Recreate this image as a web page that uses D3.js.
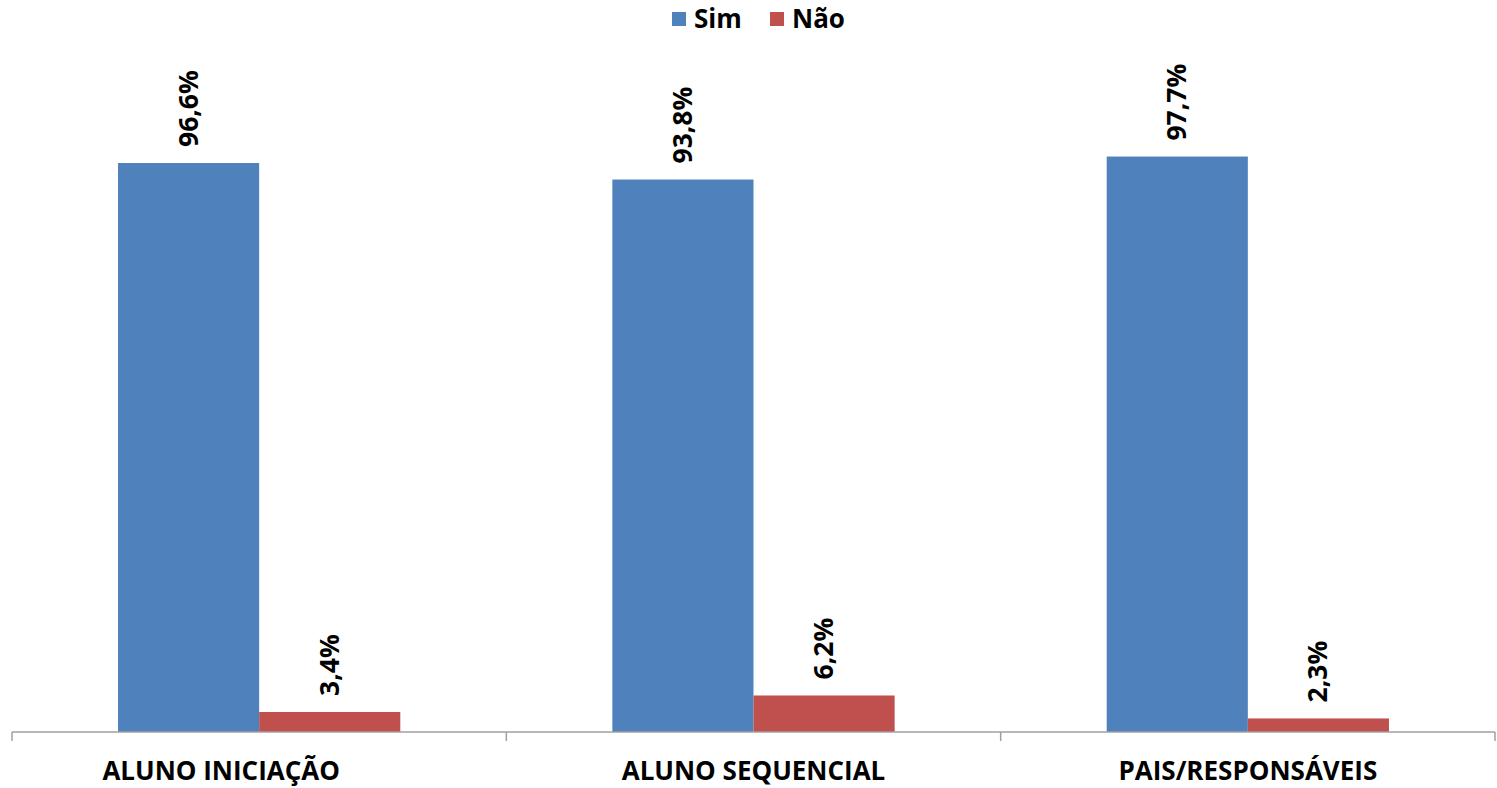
<!DOCTYPE html>
<html>
<head>
<meta charset="utf-8">
<script src="https://cdn.jsdelivr.net/npm/d3@7"></script>
<style>
  body { margin: 0; background: #fff; }
  text { font-family: "Open Sans", "Noto Sans", sans-serif; font-weight: bold; fill: #000; }
</style>
</head>
<body>
<div id="chart-ctn"></div>
<script>
// Chart data
let categories = ["ALUNO INICIAÇÃO", "ALUNO SEQUENCIAL", "PAIS/RESPONSÁVEIS"];
let seriesNames = ["Sim", "Não"];
let simValues = [96.6, 93.8, 97.7];
let naoValues = [3.4, 6.2, 2.3];
let colors = ["#4f81bd", "#c0504d"];

let width = 1497;
let height = 788;

let margin = { top: 143, right: 2, bottom: 56, left: 12 };
let innerW = width - margin.left - margin.right;
let innerH = height - margin.top - margin.bottom;

let svg = d3
    .select("#chart-ctn")
    .append("svg")
    .attr("width", width)
    .attr("height", height);

let g = svg.append("g")
    .attr("transform", `translate(${margin.left}, ${margin.top})`);

let x = d3.scaleBand().domain(categories).range([0, innerW]);
let y = d3.scaleLinear().domain([0, 100]).range([innerH, 0]);

// bars cover ~57% of each category
let groupW = x.bandwidth() * 0.571;
let x1 = d3.scaleBand().domain(seriesNames).range([(x.bandwidth() - groupW) / 2, (x.bandwidth() + groupW) / 2]);

let rows = categories.map((c, i) => ({ cat: c, vals: [simValues[i], naoValues[i]] }));

let groups = g.selectAll(".grp")
    .data(rows)
    .enter()
    .append("g")
    .attr("transform", (d) => `translate(${x(d.cat)},0)`);

groups.selectAll("rect")
    .data((d) => d.vals.map((v, j) => ({ s: seriesNames[j], v: v, j: j })))
    .enter()
    .append("rect")
    .attr("x", (d) => x1(d.s))
    .attr("width", x1.bandwidth())
    .attr("y", (d) => y(d.v))
    .attr("height", (d) => innerH - y(d.v))
    .attr("fill", (d) => colors[d.j]);

groups.selectAll(".lbl")
    .data((d) => d.vals.map((v, j) => ({ s: seriesNames[j], v: v })))
    .enter()
    .append("text")
    .attr("class", "lbl")
    .attr("transform", (d) => `translate(${x1(d.s) + x1.bandwidth() / 2 + 9}, ${y(d.v) - 16}) rotate(-90)`)
    .attr("font-size", 26.5)
    .text((d) => d3.format(".1f")(d.v).replace(".", ",") + "%");

// x axis
let xAxis = g.append("g").attr("transform", `translate(0,${innerH})`);
xAxis.append("line")
    .attr("x1", 0).attr("x2", innerW)
    .attr("stroke", "#a0a0a0").attr("stroke-width", 1.5);
xAxis.selectAll(".tick")
    .data(d3.range(categories.length + 1))
    .enter()
    .append("line")
    .attr("x1", (d) => d * x.bandwidth())
    .attr("x2", (d) => d * x.bandwidth())
    .attr("y1", 0).attr("y2", 9)
    .attr("stroke", "#a0a0a0").attr("stroke-width", 1.5);

xAxis.selectAll(".cat")
    .data(categories)
    .enter()
    .append("text")
    .attr("x", (d, i) => x(d) + x.bandwidth() / 2 + (i === 0 ? -38 : 0))
    .attr("y", 48)
    .attr("text-anchor", "middle")
    .attr("font-size", 26)
    .text((d) => d);

// legend
let legend = svg.append("g").attr("transform", "translate(672, 12)");
let legX = [0, 98];
seriesNames.forEach((s, i) => {
    legend.append("rect")
        .attr("x", legX[i]).attr("y", 0)
        .attr("width", 14).attr("height", 14)
        .attr("fill", colors[i]);
    legend.append("text")
        .attr("x", legX[i] + 22).attr("y", 16)
        .attr("font-size", 26)
        .text(s);
});
</script>
</body>
</html>
